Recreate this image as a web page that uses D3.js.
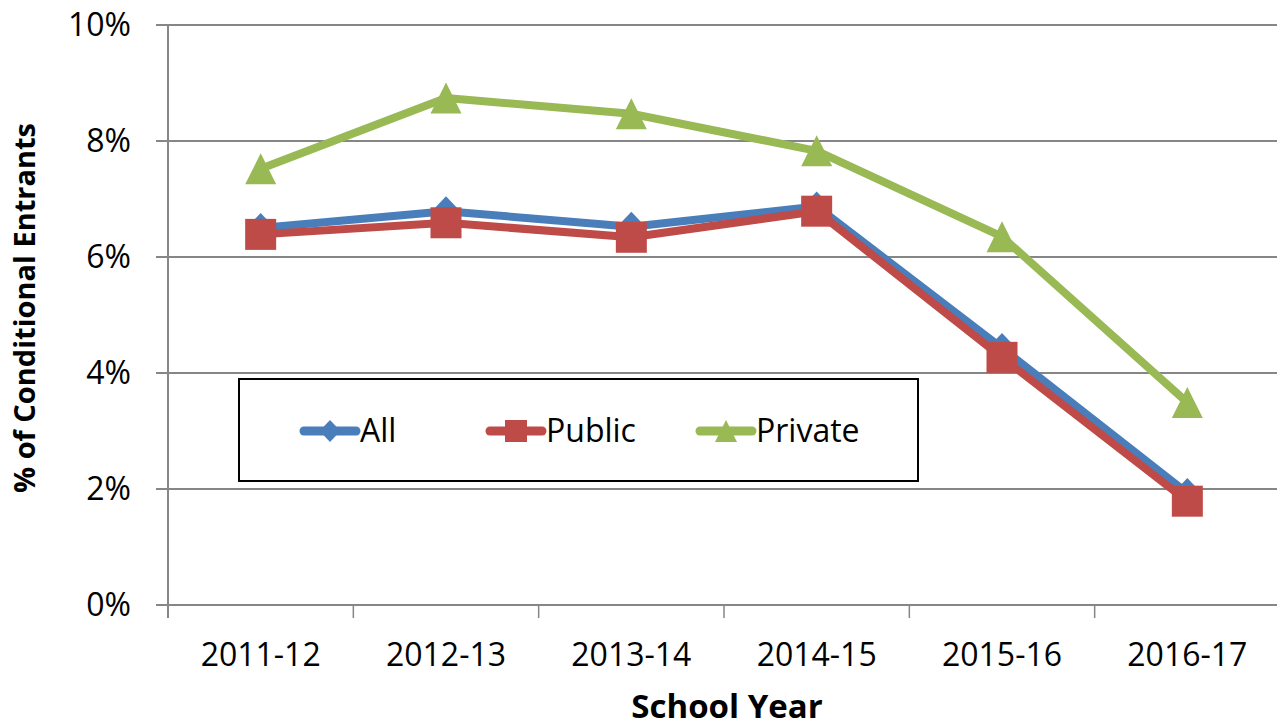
<!DOCTYPE html>
<html>
<head>
<meta charset="utf-8">
<script src="https://cdn.jsdelivr.net/npm/d3@7"></script>
<style>
  html, body { margin: 0; padding: 0; background: #fff; }
  svg { display: block; }
  text { font-family: "Open Sans", sans-serif; fill: #000; }
</style>
</head>
<body>
<svg id="chart" width="1277" height="727"></svg>
<script>
const categories = ["2011-12", "2012-13", "2013-14", "2014-15", "2015-16", "2016-17"];
const allValues = [6.50, 6.79, 6.52, 6.87, 4.43, 1.93];
const publicValues = [6.39, 6.59, 6.34, 6.79, 4.27, 1.79];
const privateValues = [7.52, 8.74, 8.47, 7.83, 6.35, 3.49];
const yTicks = [0, 2, 4, 6, 8, 10];
const seriesNames = ["All", "Public", "Private"];
const seriesColors = ["#4A7EBB", "#BE4B48", "#98B954"];
const seriesShapes = ["diamond", "square", "triangle"];
const xTitle = "School Year";
const yTitle = "% of Conditional Entrants";

const series = [allValues, publicValues, privateValues].map((v, i) => ({
  name: seriesNames[i], values: v, color: seriesColors[i], shape: seriesShapes[i]
}));

const svg = d3.select("#chart");
const m = { left: 168, top: 25, right: 1280, bottom: 605 };

const x = d3.scaleBand().domain(categories).range([m.left, m.right]);
const y = d3.scaleLinear().domain([0, 10]).range([m.bottom, m.top]);
const grid = "#868686";

// gridlines
svg.append("g").selectAll("line").data(yTicks).join("line")
  .attr("x1", m.left - 12).attr("x2", 1277)
  .attr("y1", d => y(d)).attr("y2", d => y(d))
  .attr("stroke", grid).attr("stroke-width", 2);

// y axis line
svg.append("line").attr("x1", m.left).attr("x2", m.left)
  .attr("y1", m.top).attr("y2", m.bottom + 13)
  .attr("stroke", grid).attr("stroke-width", 2);

// x ticks at band boundaries
const bounds = categories.map(c => x(c)).concat([x(categories[categories.length - 1]) + x.bandwidth()]);
svg.append("g").selectAll("line").data(bounds.slice(1)).join("line")
  .attr("x1", d => d).attr("x2", d => d)
  .attr("y1", m.bottom).attr("y2", m.bottom + 13)
  .attr("stroke", grid).attr("stroke-width", 1.5);

// y tick labels
svg.append("g").selectAll("text").data(yTicks).join("text")
  .attr("x", 131).attr("y", d => y(d) + 11)
  .attr("text-anchor", "end").attr("font-size", 32)
  .text(d => d + "%");

// x tick labels
svg.append("g").selectAll("text").data(categories).join("text")
  .attr("x", d => x(d) + x.bandwidth() / 2).attr("y", 666)
  .attr("text-anchor", "middle").attr("font-size", 32)
  .text(d => d);

// axis titles
svg.append("text").attr("x", 727).attr("y", 718)
  .attr("text-anchor", "middle").attr("font-size", 33).attr("font-weight", "bold")
  .text(xTitle);
svg.append("text").attr("transform", "translate(35,308) rotate(-90)")
  .attr("text-anchor", "middle").attr("font-size", 29).attr("font-weight", "bold")
  .text(yTitle);

function markerPath(shape, s) {
  const h = s / 2;
  if (shape === "square") return `M${-h},${-h}H${h}V${h}H${-h}Z`;
  if (shape === "diamond") return `M0,${-h}L${h * 0.95},0L0,${h}L${-h * 0.95},0Z`;
  return `M0,${-h}L${h},${h}L${-h},${h}Z`;
}

const line = d3.line().x((d, i) => x(categories[i]) + x.bandwidth() / 2).y(d => y(d));

series.forEach(s => {
  const g = svg.append("g");
  g.append("path").datum(s.values).attr("d", line)
    .attr("fill", "none").attr("stroke", s.color).attr("stroke-width", 8)
    .attr("stroke-linejoin", "round");
  g.selectAll("path.mk").data(s.values).join("path").attr("class", "mk")
    .attr("transform", (d, i) => `translate(${x(categories[i]) + x.bandwidth() / 2},${y(d)})`)
    .attr("d", markerPath(s.shape, s.shape === "diamond" ? 30 : 31))
    .attr("fill", s.color);
});

// legend
const lg = svg.append("g");
lg.append("rect").attr("x", 239).attr("y", 379).attr("width", 679).attr("height", 102)
  .attr("fill", "#fff").attr("stroke", "#000").attr("stroke-width", 2);
const legX = [300, 486, 696];
series.forEach((s, i) => {
  const gx = legX[i], gy = 431;
  lg.append("line").attr("x1", gx + 4).attr("x2", gx + 56).attr("y1", gy).attr("y2", gy)
    .attr("stroke", s.color).attr("stroke-width", 9).attr("stroke-linecap", "round");
  lg.append("path").attr("transform", `translate(${gx + 30},${gy})`)
    .attr("d", markerPath(s.shape, 22)).attr("fill", s.color);
  lg.append("text").attr("x", gx + 60).attr("y", gy + 11).attr("font-size", 32).text(s.name);
});
</script>
</body>
</html>
